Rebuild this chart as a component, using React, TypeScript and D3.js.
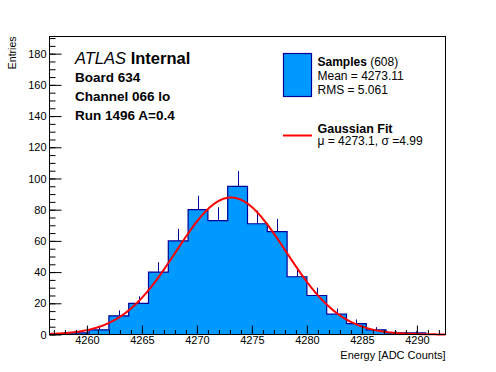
import React, { useEffect, useRef } from 'react';
import * as d3 from 'd3';

// histogram: 20 bins of 1.8 ADC counts
const binRange = [4256.6, 4292.6];
const counts = [0, 1, 3, 12, 20, 40, 60, 80, 73, 95, 71, 66, 37, 25, 13, 7, 3, 1, 1, 0];

// gaussian fit parameters
const fitMean = 4273.1;
const fitSigma = 4.99;
const fitPeak = 87.8;

const xMajorTicks = [4260, 4265, 4270, 4275, 4280, 4285, 4290];
const yMajorTicks = [0, 20, 40, 60, 80, 100, 120, 140, 160, 180];
const yMax = 191;

const infoLines = ['Board 634', 'Channel 066 lo', 'Run 1496 A=0.4'];

const FONT = "'Liberation Sans', Arial, Helvetica, sans-serif";

const App = () => {
  const ref = useRef<SVGSVGElement | null>(null);

  useEffect(() => {
    if (!ref.current) return;
    const svg = d3.select(ref.current);
    svg.selectAll('*').remove();

    const W = 496, H = 372;
    const left = 49.5, right = 445.5, top = 36.5, bottom = 334.5;

    svg.append('rect').attr('width', W).attr('height', H).attr('fill', '#fff');

    const x = d3.scaleLinear().domain(binRange).range([left, right]);
    const y = d3.scaleLinear().domain([0, yMax]).range([bottom, top]);

    const nBins = counts.length;
    const bw = (binRange[1] - binRange[0]) / nBins;
    const bins = counts.map((n, i) => ({
      lo: binRange[0] + i * bw,
      hi: binRange[0] + (i + 1) * bw,
      n,
    }));

    // filled histogram
    const area = d3.area<{ lo: number; hi: number; n: number }>()
      .curve(d3.curveStepAfter)
      .x(d => x(d.lo))
      .y0(y(0))
      .y1(d => y(d.n));
    const stepData = [...bins, { lo: binRange[1], hi: binRange[1], n: counts[nBins - 1] }];
    svg.append('path')
      .attr('d', area(stepData))
      .attr('fill', '#0099ff');

    // outline
    const outline: [number, number][] = [[x(bins[0].lo), y(0)]];
    bins.forEach(b => {
      outline.push([x(b.lo), y(b.n)]);
      outline.push([x(b.hi), y(b.n)]);
    });
    outline.push([x(binRange[1]), y(0)]);
    svg.append('path')
      .attr('d', d3.line()(outline))
      .attr('fill', 'none')
      .attr('stroke', '#000099')
      .attr('stroke-width', 1.2);

    // upper error bars (lower half hidden by the fill)
    svg.selectAll('line.err')
      .data(bins.filter(b => b.n > 0))
      .enter()
      .append('line')
      .attr('class', 'err')
      .attr('x1', d => Math.round(x((d.lo + d.hi) / 2)) + 0.5)
      .attr('x2', d => Math.round(x((d.lo + d.hi) / 2)) + 0.5)
      .attr('y1', d => y(d.n))
      .attr('y2', d => y(d.n + Math.sqrt(d.n)))
      .attr('stroke', '#000099')
      .attr('stroke-width', 1);

    // gaussian fit curve
    const gx = d3.range(binRange[0], binRange[1] + 0.01, 0.1);
    const gauss = (v: number) => fitPeak * Math.exp(-0.5 * ((v - fitMean) / fitSigma) ** 2);
    svg.append('path')
      .attr('d', d3.line<number>().x(v => x(v)).y(v => y(gauss(v)))(gx))
      .attr('fill', 'none')
      .attr('stroke', '#ff0000')
      .attr('stroke-width', 2);

    // frame
    svg.append('rect')
      .attr('x', left).attr('y', top)
      .attr('width', right - left).attr('height', bottom - top)
      .attr('fill', 'none').attr('stroke', '#000').attr('stroke-width', 1);

    // x axis ticks (inward)
    const xMinor = d3.range(Math.ceil(binRange[0]), binRange[1], 1);
    svg.append('g')
      .attr('transform', `translate(0,${bottom})`)
      .call(d3.axisBottom(x).tickValues(xMinor).tickFormat(() => '').tickSize(-4.5))
      .call(g => g.select('.domain').remove());
    const xAxis = svg.append('g')
      .attr('transform', `translate(0,${bottom})`)
      .call(d3.axisBottom(x).tickValues(xMajorTicks).tickFormat(d3.format('d')).tickSize(-9).tickPadding(3));
    xAxis.select('.domain').remove();
    xAxis.selectAll('text')
      .attr('font-family', FONT).attr('font-size', 11).attr('fill', '#000')
      .attr('dy', '0.71em').attr('y', 2);

    // y axis ticks (inward)
    const yMinor = d3.range(0, yMax, 5);
    svg.append('g')
      .attr('transform', `translate(${left},0)`)
      .call(d3.axisLeft(y).tickValues(yMinor).tickFormat(() => '').tickSize(-6))
      .call(g => g.select('.domain').remove());
    const yAxis = svg.append('g')
      .attr('transform', `translate(${left},0)`)
      .call(d3.axisLeft(y).tickValues(yMajorTicks).tickFormat(d3.format('d')).tickSize(-12).tickPadding(3));
    yAxis.select('.domain').remove();
    yAxis.selectAll('text')
      .attr('font-family', FONT).attr('font-size', 11).attr('fill', '#000');
    svg.selectAll('.tick line').attr('stroke', '#000');

    // axis titles
    svg.append('text')
      .attr('x', right).attr('y', 358.5)
      .attr('text-anchor', 'end')
      .attr('font-family', FONT).attr('font-size', 11)
      .text('Energy [ADC Counts]');
    svg.append('text')
      .attr('transform', `translate(16,${top}) rotate(-90)`)
      .attr('text-anchor', 'end')
      .attr('font-family', FONT).attr('font-size', 10.5)
      .text('Entries');

    // ATLAS label
    const atlas = svg.append('text')
      .attr('x', 75).attr('y', 63.5)
      .attr('font-family', FONT).attr('font-size', 16.5);
    atlas.append('tspan').attr('font-style', 'italic').text('ATLAS');
    atlas.append('tspan').attr('font-weight', 'bold').text(' Internal');

    svg.selectAll('text.info')
      .data(infoLines)
      .enter()
      .append('text')
      .attr('class', 'info')
      .attr('x', 75)
      .attr('y', (d, i) => 81.5 + i * 19)
      .attr('font-family', FONT).attr('font-size', 13.5).attr('font-weight', 'bold')
      .text(d => d);

    // legend
    svg.append('rect')
      .attr('x', 283.5).attr('y', 53.5).attr('width', 28).attr('height', 43)
      .attr('fill', '#0099ff').attr('stroke', '#000099').attr('stroke-width', 1.2);
    const s = svg.append('text').attr('x', 317.5).attr('y', 66)
      .attr('font-family', FONT).attr('font-size', 12);
    s.append('tspan').attr('font-weight', 'bold').text('Samples');
    s.append('tspan').text(` (${d3.sum(counts)})`);
    svg.append('text').attr('x', 317.5).attr('y', 79.5)
      .attr('font-family', FONT).attr('font-size', 12).text('Mean = 4273.11');
    svg.append('text').attr('x', 317.5).attr('y', 93.5)
      .attr('font-family', FONT).attr('font-size', 12).text('RMS = 5.061');

    svg.append('line')
      .attr('x1', 283).attr('x2', 312).attr('y1', 135.5).attr('y2', 135.5)
      .attr('stroke', '#ff0000').attr('stroke-width', 2);
    svg.append('text').attr('x', 317.5).attr('y', 132.5)
      .attr('font-family', FONT).attr('font-size', 12.5).attr('font-weight', 'bold')
      .text('Gaussian Fit');
    svg.append('text').attr('x', 317.5).attr('y', 145)
      .attr('font-family', FONT).attr('font-size', 12)
      .text(`\u03bc = ${fitMean}, \u03c3 =${fitSigma}`);
  }, []);

  return (
    <svg
      ref={ref}
      width={496}
      height={372}
      style={{ position: 'absolute', left: 0, top: 0, display: 'block' }}
    />
  );
};

export default App;
